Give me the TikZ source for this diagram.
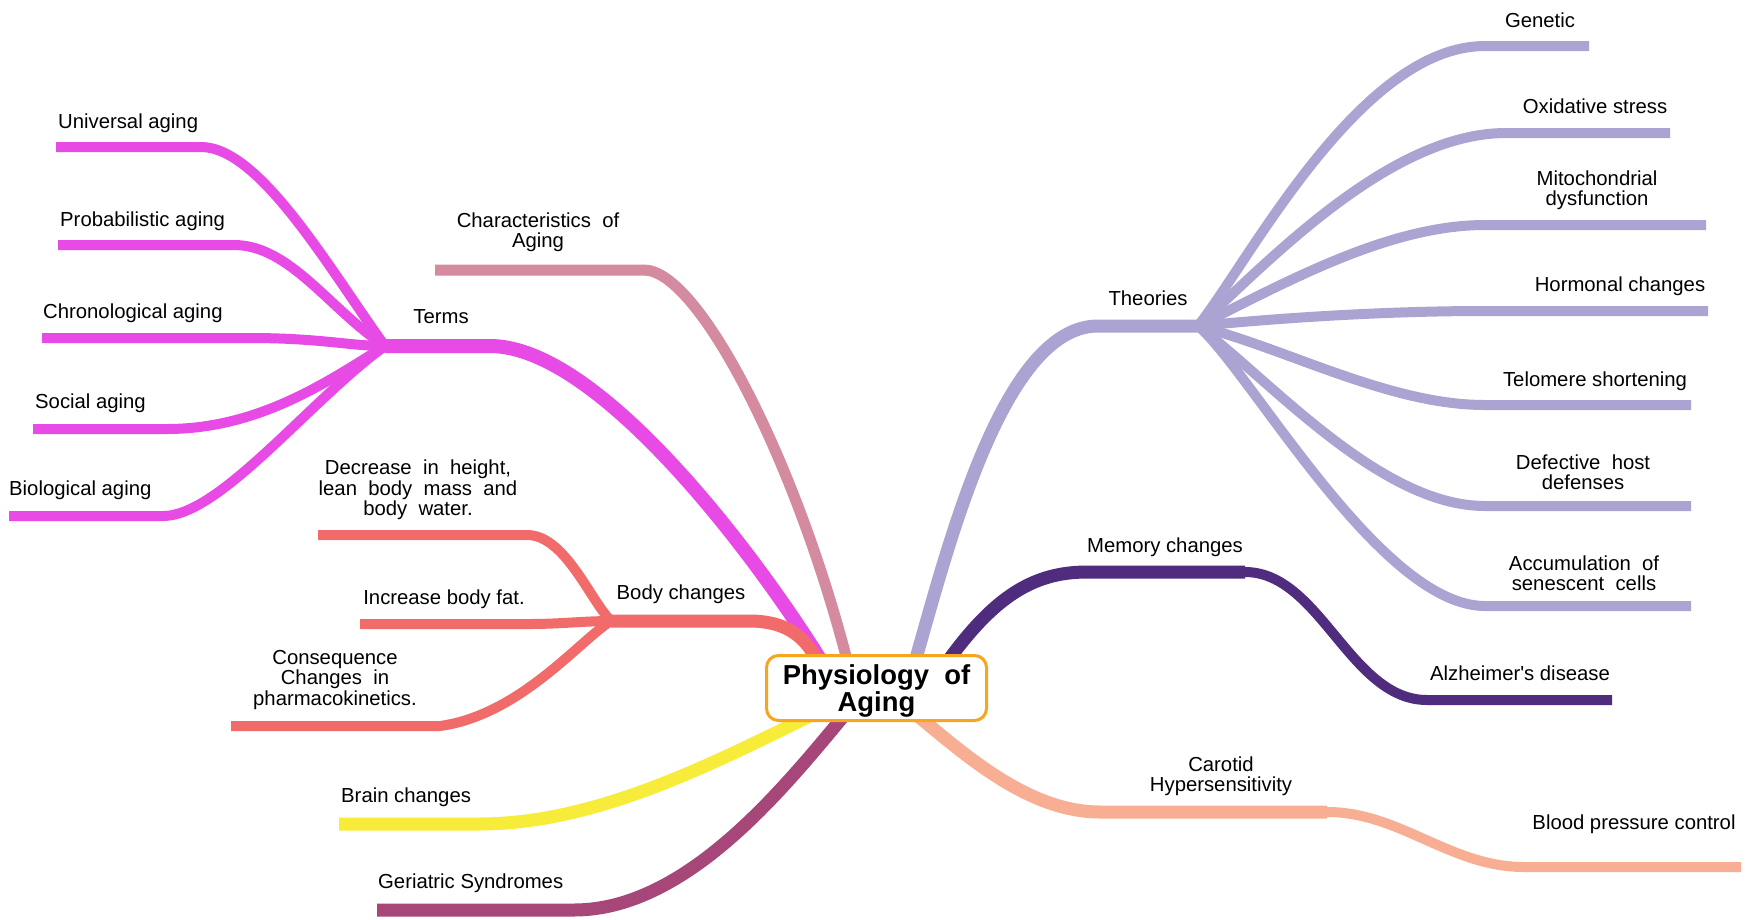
\documentclass[tikz,border=0pt]{standalone}
\usepackage{fontspec}
\setmainfont{Liberation Sans}
\definecolor{terms}{HTML}{E84AE6}
\definecolor{charc}{HTML}{D48A9F}
\definecolor{bodyc}{HTML}{F26B6B}
\definecolor{brain}{HTML}{F8EC3A}
\definecolor{geri}{HTML}{A64679}
\definecolor{theo}{HTML}{ABA3D1}
\definecolor{mem}{HTML}{4F2C7D}
\definecolor{carot}{HTML}{F7AE93}
\definecolor{centerbd}{HTML}{F7A51E}
\begin{document}
\begin{tikzpicture}[x=1pt,y=-1pt,
  lbl/.style={inner sep=0pt, font=\fontsize{20.3}{20.5}\selectfont, align=center, text=black},
  mainbr/.style={line width=13pt, line join=round},
  subbr/.style={line width=10pt, line join=round},
  ]
\useasboundingbox[fill=white] (0,0) rectangle (1748,919);

% ---------- coordinates ----------
\coordinate (rTerms) at (828,672);
\coordinate (bTerms) at (490,346);
\coordinate (hTerms) at (385,346);
\coordinate (bUniv) at (201,147);  \coordinate (eUniv) at (56,147);
\coordinate (bProb) at (234,245);  \coordinate (eProb) at (58,245);
\coordinate (bChron) at (250,338); \coordinate (eChron) at (42,338);
\coordinate (bSoc) at (167,429);   \coordinate (eSoc) at (33,429);
\coordinate (bBio) at (163,516);   \coordinate (eBio) at (9,516);

\coordinate (rChar) at (850,672);
\coordinate (bChar) at (644,270);  \coordinate (eChar) at (435,270);

\coordinate (rBody) at (822,672);
\coordinate (bBody) at (749,621);  \coordinate (hBody) at (611,621);
\coordinate (bDec) at (527,535);   \coordinate (eDec) at (318,535);
\coordinate (bInc) at (530,624);   \coordinate (eInc) at (360,624);
\coordinate (bCons) at (440,726);  \coordinate (eCons) at (231,726);

\coordinate (rBrain) at (830,706);
\coordinate (bBrain) at (479,824); \coordinate (eBrain) at (339,824);
\coordinate (rGeri) at (852,706);
\coordinate (bGeri) at (574,910);  \coordinate (eGeri) at (377,910);

\coordinate (rTheo) at (912,672);
\coordinate (bTheo) at (1098,326); \coordinate (hTheo) at (1198,326);
\coordinate (bGen) at (1485,46);   \coordinate (eGen) at (1589,46);
\coordinate (bOx) at (1506,133);   \coordinate (eOx) at (1670,133);
\coordinate (bMito) at (1485,225); \coordinate (eMito) at (1706,225);
\coordinate (bHorm) at (1485,311); \coordinate (eHorm) at (1708,311);
\coordinate (bTelo) at (1485,405); \coordinate (eTelo) at (1691,405);
\coordinate (bDef) at (1485,506);  \coordinate (eDef) at (1691,506);
\coordinate (bAcc) at (1485,606);  \coordinate (eAcc) at (1691,606);

\coordinate (rMem) at (940,672);
\coordinate (aMem) at (1087,572);  \coordinate (bMem) at (1245,572);
\coordinate (aAlz) at (1427,700);  \coordinate (eAlz) at (1612,700);

\coordinate (rCar) at (905,706);
\coordinate (aCar) at (1100,812);  \coordinate (bCar) at (1327,812);
\coordinate (aBP) at (1524,867);   \coordinate (eBP) at (1741,867);

% ---------- branches ----------
\draw[charc, line width=11pt, line join=round] (rChar) .. controls (800,470) and (700,270) .. (bChar) -- (eChar);

\draw[terms, mainbr, line width=14pt] (rTerms) .. controls (760,560) and (600,346) .. (bTerms) -- (hTerms);
\draw[terms, subbr] (hTerms) .. controls (330,270) and (260,147) .. (bUniv) -- (eUniv);
\draw[terms, subbr] (hTerms) .. controls (330,310) and (290,245) .. (bProb) -- (eProb);
\draw[terms, subbr] (hTerms) .. controls (350,346) and (320,338) .. (bChron) -- (eChron);
\draw[terms, subbr] (hTerms) .. controls (330,380) and (260,429) .. (bSoc) -- (eSoc);
\draw[terms, subbr] (hTerms) .. controls (310,400) and (220,516) .. (bBio) -- (eBio);

\draw[bodyc, mainbr] (rBody) .. controls (810,640) and (790,621) .. (bBody) -- (hBody);
\draw[bodyc, subbr] (hBody) .. controls (590,600) and (565,535) .. (bDec) -- (eDec);
\draw[bodyc, subbr] (hBody) .. controls (585,621) and (560,624) .. (bInc) -- (eInc);
\draw[bodyc, subbr] (hBody) .. controls (580,640) and (520,715) .. (bCons) -- (eCons);

\draw[brain, mainbr] (rBrain) .. controls (720,760) and (600,824) .. (bBrain) -- (eBrain);
\draw[geri, mainbr] (rGeri) .. controls (790,780) and (690,910) .. (bGeri) -- (eGeri);

\draw[theo, mainbr] (rTheo) .. controls (945,560) and (1000,326) .. (bTheo) -- (hTheo);
\draw[theo, subbr] (hTheo) .. controls (1250,260) and (1360,46) .. (bGen) -- (eGen);
\draw[theo, subbr] (hTheo) .. controls (1270,260) and (1390,133) .. (bOx) -- (eOx);
\draw[theo, subbr] (hTheo) .. controls (1290,280) and (1390,225) .. (bMito) -- (eMito);
\draw[theo, subbr] (hTheo) .. controls (1300,316) and (1400,311) .. (bHorm) -- (eHorm);
\draw[theo, subbr] (hTheo) .. controls (1290,350) and (1390,405) .. (bTelo) -- (eTelo);
\draw[theo, subbr] (hTheo) .. controls (1270,380) and (1380,506) .. (bDef) -- (eDef);
\draw[theo, subbr] (hTheo) .. controls (1250,370) and (1380,606) .. (bAcc) -- (eAcc);

\draw[mem, mainbr] (rMem) .. controls (990,600) and (1030,572) .. (aMem) -- (bMem);
\draw[mem, subbr] (bMem) .. controls (1320,572) and (1350,700) .. (aAlz) -- (eAlz);

\draw[carot, mainbr] (rCar) .. controls (950,740) and (1020,812) .. (aCar) -- (bCar);
\draw[carot, subbr] (bCar) .. controls (1400,812) and (1450,867) .. (aBP) -- (eBP);

% ---------- center ----------
\node[draw=centerbd, line width=3pt, fill=white, rounded corners=12pt,
      minimum width=220pt, minimum height=65pt, inner sep=0pt, align=center,
      font=\bfseries\fontsize{27.4}{27}\selectfont] (C) at (876.5,688) {\rule{0pt}{26pt}Physiology\ \ of\\Aging};

% ---------- labels ----------
\node[lbl, anchor=west] (lUniv) at (58,123) {Universal aging};
\node[lbl, anchor=west] (lProb) at (60,221) {Probabilistic aging};
\node[lbl, anchor=west] (lChron) at (43,313) {Chronological aging};
\node[lbl, anchor=west] (lSoc) at (35,403) {Social aging};
\node[lbl, anchor=west] (lBio) at (9,490) {Biological aging};
\node[lbl] (lTerms) at (441,317) {Terms};
\node[lbl] (lChar) at (538,232) {Characteristics\ \ of\\Aging};
\node[lbl] (lBody) at (681,594) {Body changes};
\node[lbl] (lDec) at (418,490) {Decrease\ \ in\ \ height,\\lean\ \ body\ \ mass\ \ and\\body\ \ water.};
\node[lbl] (lInc) at (444,599) {Increase body fat.};
\node[lbl] (lCons) at (335,680) {Consequence\\Changes\ \ in\\pharmacokinetics.};
\node[lbl, anchor=west] (lBrain) at (341,797) {Brain changes};
\node[lbl, anchor=west] (lGeri) at (378,883) {Geriatric Syndromes};
\node[lbl] (lTheo) at (1148,298) {Theories};
\node[lbl] (lGen) at (1540,20) {Genetic};
\node[lbl] (lOx) at (1595,106) {Oxidative stress};
\node[lbl] (lMito) at (1597,190) {Mitochondrial\\dysfunction};
\node[lbl] (lHorm) at (1620,286) {Hormonal changes};
\node[lbl] (lTelo) at (1595,381) {Telomere shortening};
\node[lbl] (lDef) at (1583,472) {Defective\ \ host\\defenses};
\node[lbl] (lAcc) at (1584,573) {Accumulation\ \ of\\senescent\ \ cells};
\node[lbl] (lMem) at (1165,547) {Memory changes};
\node[lbl] (lAlz) at (1520,673) {Alzheimer\textquotesingle s disease};
\node[lbl] (lCar) at (1221,776) {Carotid\\Hypersensitivity};
\node[lbl] (lBP) at (1634,824) {Blood pressure control};
\end{tikzpicture}
\end{document}
